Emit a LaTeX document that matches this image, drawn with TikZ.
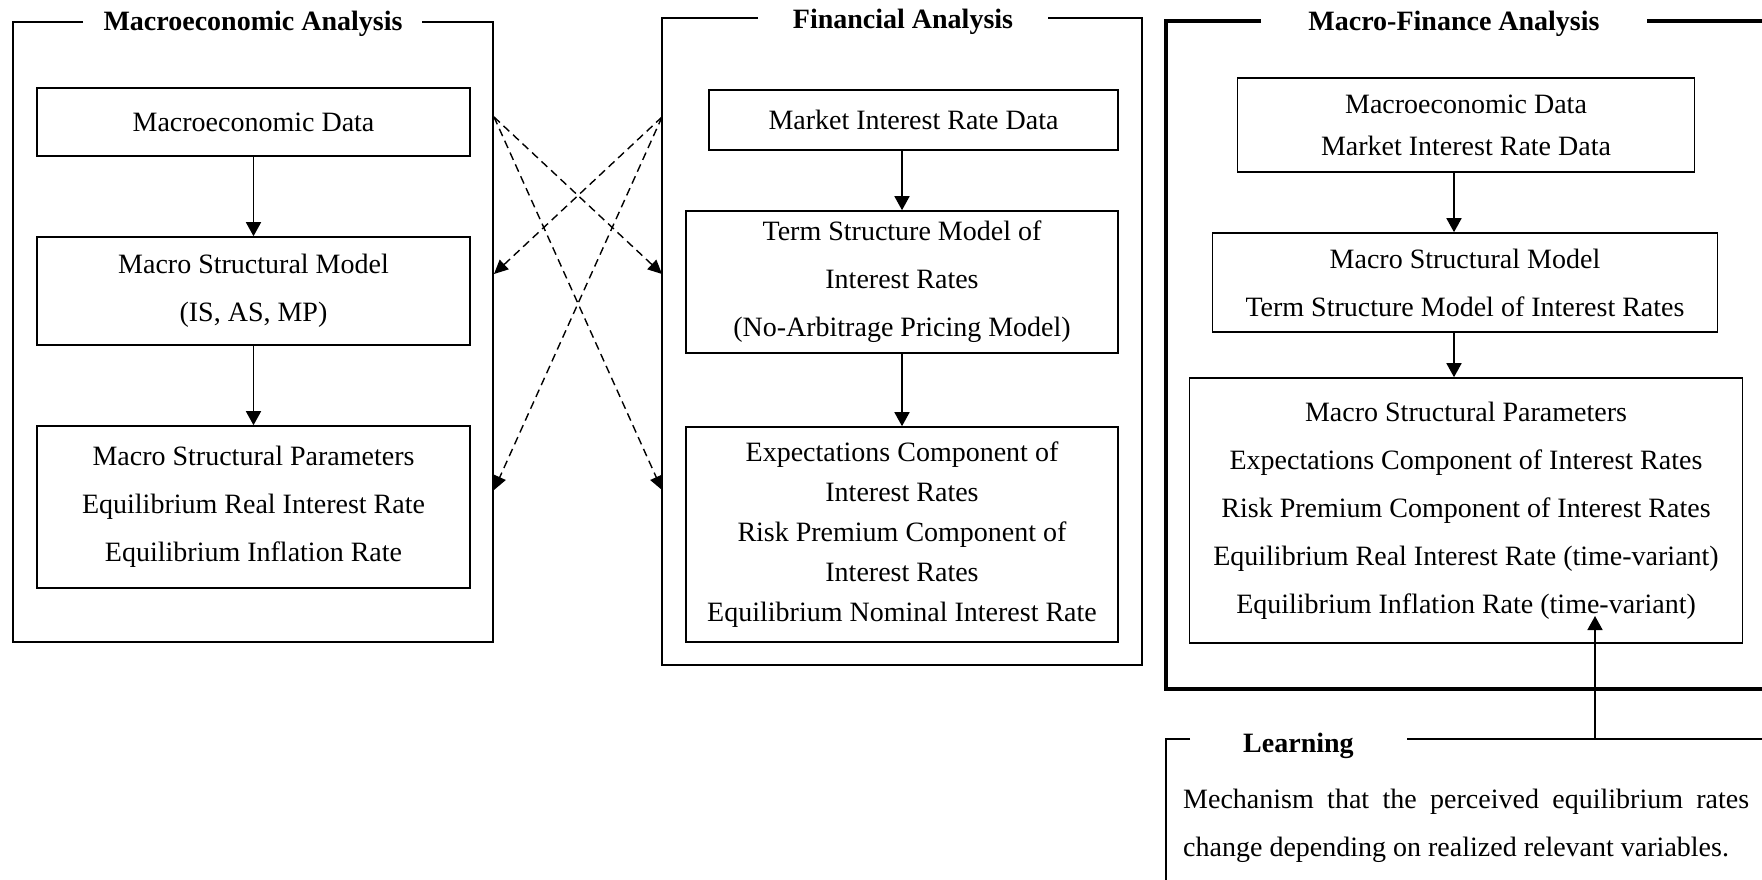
\documentclass[tikz,border=0pt]{standalone}
\usepackage{fontspec}
\setmainfont{Liberation Serif}
\usetikzlibrary{arrows.meta}
\begin{document}
\begin{tikzpicture}[x=1pt,y=-1pt,
  box/.style={draw, line width=1.6pt, inner sep=0pt, align=center, font=\fontsize{28}{48}\selectfont},
  arr/.style={line width=1.6pt, -{Triangle[length=14pt,width=15pt]}},
  darr/.style={line width=1.4pt, dash pattern=on 8pt off 5pt, -{Triangle[length=14pt,width=13pt]}},
  frame/.style={line width=1.6pt},
  thickframe/.style={line width=4pt},
  title/.style={font=\fontsize{28}{34}\selectfont\bfseries, inner sep=0pt, anchor=base},
]
\useasboundingbox (0,0) rectangle (1762,879);

% Left group
\draw[frame] (83,22) -- (13,22) -- (13,642) -- (493,642) -- (493,22) -- (422,22);
\node[title] (ltitle) at (253,30) {Macroeconomic Analysis};
\node[box, minimum width=433pt, minimum height=68pt] (ld) at (253.5,122) {Macroeconomic Data};
\node[box, minimum width=433pt, minimum height=108pt] (lm) at (253.5,291) {Macro Structural Model\\(IS, AS, MP)};
\node[box, minimum width=433pt, minimum height=162pt] (lp) at (253.5,507) {Macro Structural Parameters\\Equilibrium Real Interest Rate\\Equilibrium Inflation Rate};
\draw[arr] (ld.south) -- (lm.north);
\draw[arr] (lm.south) -- (lp.north);

% Center group
\draw[frame] (758,18) -- (662,18) -- (662,665) -- (1142,665) -- (1142,18) -- (1048,18);
\node[title] (ctitle) at (903,28) {Financial Analysis};
\node[box, minimum width=409pt, minimum height=60pt] (cd) at (913.5,120) {Market Interest Rate Data};
\node[box, minimum width=432pt, minimum height=142pt] (ct) at (902,282) {Term Structure Model of\\Interest Rates\\(No-Arbitrage Pricing Model)};
\node[box, minimum width=432pt, minimum height=215pt, font=\fontsize{28}{40}\selectfont] (ce) at (902,534.5) {Expectations Component of\\Interest Rates\\Risk Premium Component of\\Interest Rates\\Equilibrium Nominal Interest Rate};
\draw[arr] (cd.south -| ct.north) -- (ct.north);
\draw[arr] (ct.south) -- (ce.north);

% Dashed cross connectors
\coordinate (a1) at (494,117);
\coordinate (a2) at (662,117);
\coordinate (b1) at (662,274);
\coordinate (b2) at (662,490);
\coordinate (c1) at (494,274);
\coordinate (c2) at (494,490);
\draw[darr] (a1) -- (b1);
\draw[darr] (a1) -- (b2);
\draw[darr] (a2) -- (c1);
\draw[darr] (a2) -- (c2);

% Right group
\draw[thickframe] (1261,21) -- (1166,21) -- (1166,689) -- (1780,689);
\draw[thickframe] (1647,21) -- (1780,21);
\node[title] (rtitle) at (1454,30) {Macro-Finance Analysis};
\node[box, minimum width=457pt, minimum height=94pt, font=\fontsize{28}{42}\selectfont] (rd) at (1466,125) {Macroeconomic Data\\Market Interest Rate Data};
\node[box, minimum width=505pt, minimum height=99pt] (rm) at (1465,282.5) {Macro Structural Model\\Term Structure Model of Interest Rates};
\node[box, minimum width=553pt, minimum height=265pt] (rp) at (1466,510.5) {Macro Structural Parameters\\Expectations Component of Interest Rates\\Risk Premium Component of Interest Rates\\Equilibrium Real Interest Rate (time-variant)\\Equilibrium Inflation Rate (time-variant)};
\coordinate (rax) at (1454,0);
\draw[arr] (rd.south -| rax) -- (rm.north -| rax);
\draw[arr] (rm.south -| rax) -- (rp.north -| rax);

% Learning
\draw[frame] (1190,739) -- (1166,739) -- (1166,900);
\draw[frame] (1407,739) -- (1780,739);
\node[title, anchor=base west] (lrn) at (1243,752) {Learning};
\node[anchor=north west, inner sep=0pt, text width=566pt, align=justify, font=\fontsize{28}{48}\selectfont] (mech) at (1183,789) {\tolerance=9999\hyphenpenalty=10000 Mechanism that the perceived equilibrium rates change depending on realized relevant variables.};
\coordinate (lrs) at (1595,739);
\coordinate (lre) at (1595,616);
\draw[arr] (lrs) -- (lre);
\end{tikzpicture}
\end{document}
